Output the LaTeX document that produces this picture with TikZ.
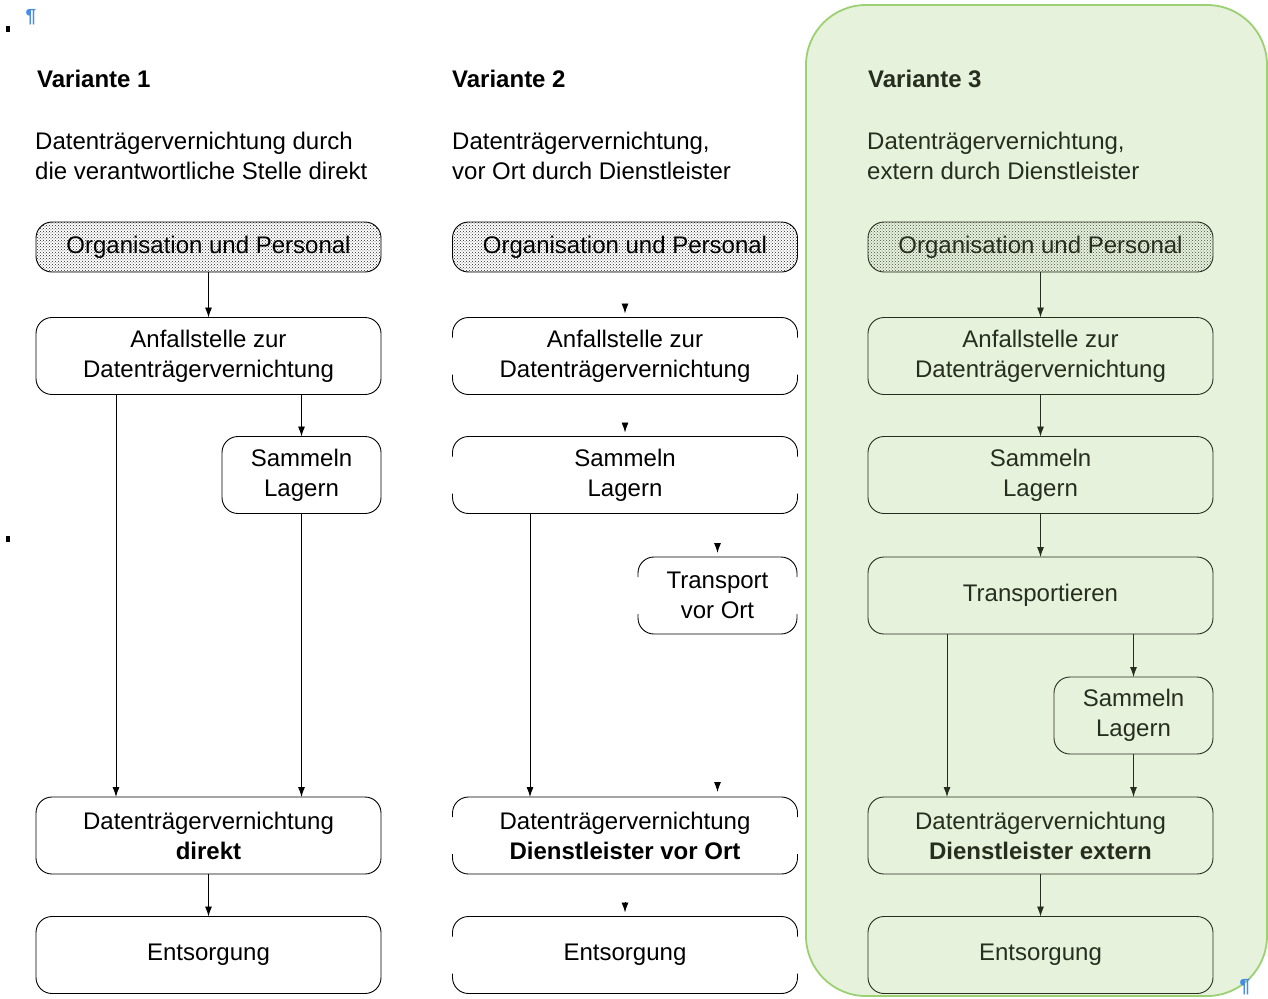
\documentclass[tikz,border=0pt]{standalone}
\usepackage{fontspec}
\setmainfont{Liberation Sans}
\usetikzlibrary{arrows.meta,patterns}
\definecolor{panelfill}{RGB}{230,242,220}
\definecolor{paneldraw}{RGB}{155,208,115}
\definecolor{darkg}{RGB}{38,46,30}
\definecolor{pilcrow}{RGB}{70,140,230}
\tikzset{
 box/.style={draw, rounded corners=16pt, minimum width=345pt, minimum height=77pt, inner sep=0pt, outer sep=0pt, align=center, font=\fontsize{24}{30}\selectfont, line width=0.9pt},
 smallbox/.style={box, minimum width=159pt},
 orgbox/.style={box, minimum height=50pt, pattern=crosshatch dots, pattern color=black!85},
 hiddenbox/.style={box, draw=none},
 hiddensmall/.style={smallbox, draw=none},
 arr/.style={-{Latex[length=10pt,width=7pt]}, line width=0.9pt},
 title/.style={anchor=base west, font=\fontsize{24}{30}\selectfont\bfseries, inner sep=0pt},
 desc/.style={anchor=base west, font=\fontsize{24}{30}\selectfont, inner sep=0pt},
 pil/.style={text=pilcrow, font=\fontsize{19}{19}\selectfont\bfseries, inner sep=0pt},
}
\newcommand{\halfbox}[1]{%
 \draw[rounded corners=16pt, line width=0.9pt] ([yshift=-20pt]#1.north west) -- (#1.north west) -- (#1.north east) -- ([yshift=-20pt]#1.north east);
 \draw[rounded corners=16pt, line width=0.9pt] ([yshift=20pt]#1.south west) -- (#1.south west) -- (#1.south east) -- ([yshift=20pt]#1.south east);}
\begin{document}
\begin{tikzpicture}[x=1pt,y=-1pt]
\useasboundingbox (0,0) rectangle (1268,998);
% green panel
\draw[fill=panelfill, draw=paneldraw, line width=1.8pt, rounded corners=60pt] (806,5) rectangle (1267,996);
% formatting marks
\fill (6,26) rectangle (10,32);
\fill (6,536) rectangle (10,542);
\node[pil] (pil1) at (31,17) {¶};
\node[pil] (pil2) at (1245,987) {¶};

% ---------- Variante 1 ----------
\node[title] (t1) at (37,88) {Variante 1};
\node[desc] (d1a) at (35,149) {Datenträgervernichtung durch};
\node[desc] (d1b) at (35,179) {die verantwortliche Stelle direkt};
\node[orgbox] (o1) at (208.5,247) {Organisation und Personal};
\node[box] (a1) at (208.5,356) {Anfallstelle zur\\Datenträgervernichtung};
\node[smallbox] (s1) at (301.5,475) {Sammeln\\Lagern};
\node[box] (v1) at (208.5,835.5) {Datenträgervernichtung\\\textbf{direkt}};
\node[box] (e1) at (208.5,955) {Entsorgung};
\coordinate (k1) at (116,0);
\draw[arr] (o1) -- (a1);
\draw[arr] (a1.south -| s1.north) -- (s1.north);
\draw[arr] (a1.south -| k1) -- (v1.north -| k1);
\draw[arr] (s1.south) -- (v1.north -| s1.south);
\draw[arr] (v1) -- (e1);

% ---------- Variante 2 ----------
\node[title] (t2) at (452,88) {Variante 2};
\node[desc] (d2a) at (452,149) {Datenträgervernichtung,};
\node[desc] (d2b) at (452,179) {vor Ort durch Dienstleister};
\node[orgbox] (o2) at (625,247) {Organisation und Personal};
\node[hiddenbox] (a2) at (625,356) {Anfallstelle zur\\Datenträgervernichtung};
\node[hiddenbox] (s2) at (625,475) {Sammeln\\Lagern};
\node[hiddensmall] (tr2) at (717.5,595.5) {Transport\\vor Ort};
\node[hiddenbox] (v2) at (625,835.5) {Datenträgervernichtung\\\textbf{Dienstleister vor Ort}};
\node[hiddenbox] (e2) at (625,955) {Entsorgung};
\halfbox{a2}
\halfbox{s2}
\halfbox{tr2}
\halfbox{v2}
\halfbox{e2}
\coordinate (k2) at (530,0);
\draw[arr, shorten <=32pt, shorten >=4pt] (o2) -- (a2);
\draw[arr, shorten <=28pt, shorten >=4pt] (a2) -- (s2);
\draw[arr, shorten <=29pt, shorten >=4pt] (s2.south -| tr2.north) -- (tr2.north);
\draw[arr] (s2.south -| k2) -- (v2.north -| k2);
\draw[arr, shorten <=149pt, shorten >=5pt] (tr2.south) -- (v2.north -| tr2.south);
\draw[arr, shorten <=28pt, shorten >=4pt] (v2) -- (e2);

% ---------- Variante 3 ----------
\begin{scope}[color=darkg]
\node[title, text=darkg] (t3) at (868,88) {Variante 3};
\node[desc, text=darkg] (d3a) at (867,149) {Datenträgervernichtung,};
\node[desc, text=darkg] (d3b) at (867,179) {extern durch Dienstleister};
\node[orgbox, pattern color=darkg!85, text=darkg] (o3) at (1040.5,247) {Organisation und Personal};
\node[box, text=darkg] (a3) at (1040.5,356) {Anfallstelle zur\\Datenträgervernichtung};
\node[box, text=darkg] (s3) at (1040.5,475) {Sammeln\\Lagern};
\node[box, text=darkg] (tr3) at (1040.5,595.5) {Transportieren};
\node[smallbox, text=darkg] (s3b) at (1133.5,715.5) {Sammeln\\Lagern};
\node[box, text=darkg] (v3) at (1040.5,835.5) {Datenträgervernichtung\\\textbf{Dienstleister extern}};
\node[box, text=darkg] (e3) at (1040.5,955) {Entsorgung};
\coordinate (k3) at (947,0);
\draw[arr] (o3) -- (a3);
\draw[arr] (a3) -- (s3);
\draw[arr] (s3) -- (tr3);
\draw[arr] (tr3.south -| s3b.north) -- (s3b.north);
\draw[arr] (tr3.south -| k3) -- (v3.north -| k3);
\draw[arr] (s3b.south) -- (v3.north -| s3b.south);
\draw[arr] (v3) -- (e3);
\end{scope}
\end{tikzpicture}
\end{document}
